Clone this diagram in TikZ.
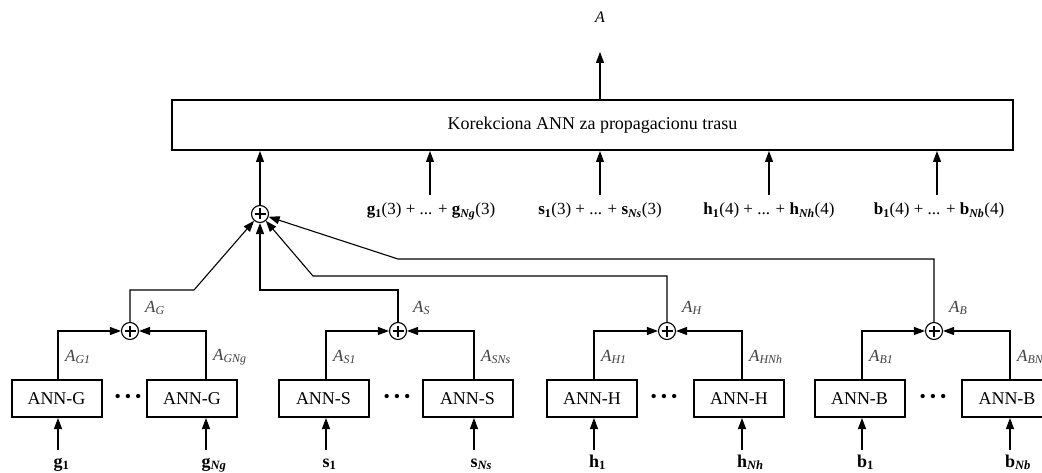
\documentclass[tikz,border=0pt]{standalone}
\usepackage{fontspec}
\setmainfont{Liberation Serif}
\usetikzlibrary{arrows.meta}

\newcommand{\asub}[1]{\textit{A}\textsubscript{\textit{#1}}}
\newcommand{\vin}[2]{\textbf{#1}\rlap{\textsubscript{\textbf{#2}}}}
\newcommand{\vsum}[4]{\textbf{#1}\textsubscript{\textbf{1}}(#3) + ... + \textbf{#1}\textsubscript{\textbf{\textit{#2}}}(#4)}

\tikzset{
  arr/.style={-{Triangle[length=11pt,width=8pt]}, line width=1.1pt},
  annbox/.style={draw, line width=2pt, minimum width=90pt, minimum height=37pt,
    inner sep=0pt, font=\fontsize{18}{20}\selectfont},
  corrbox/.style={draw, line width=2pt, minimum width=841pt, minimum height=50pt,
    inner sep=0pt, font=\fontsize{18}{20}\selectfont},
  sumnode/.style={draw, circle, line width=1.1pt, minimum size=17pt, inner sep=0pt,
    path picture={\draw[line width=1.1pt]
      ([xshift=-5.5pt]path picture bounding box.center) -- ([xshift=5.5pt]path picture bounding box.center)
      ([yshift=-5.5pt]path picture bounding box.center) -- ([yshift=5.5pt]path picture bounding box.center);}},
  alab/.style={anchor=west, inner sep=0pt, text=black!75, font=\fontsize{17}{19}\selectfont},
  vlab/.style={anchor=base, inner sep=0pt, text height=17pt, font=\fontsize{18}{20}\selectfont},
  toplab/.style={anchor=base, inner sep=0pt, text height=20pt, font=\fontsize{17}{19}\selectfont},
  dotsnode/.style={inner sep=0pt, font=\fontsize{18}{20}\selectfont}
}

\begin{document}
\begin{tikzpicture}[x=1pt,y=-1pt]
\useasboundingbox (0,0) rectangle (1042,473);

% correction network
\node[corrbox] (corr) at (592.5,125) {Korekciona ANN za propagacionu trasu};
\node[alab, anchor=center, text=black, font=\fontsize{16}{18}\selectfont] (A) at (600,17) {\textit{A}};
\coordinate (aout) at (600,52);
\draw[arr] (aout |- corr.north) -- (aout);

\node[sumnode] (sumA) at (260,214) {};
\draw[arr] (sumA) -- (sumA |- corr.south);

\node[toplab] (gtop) at (431,215) {\vsum{g}{Ng}{3}{3}};
\node[toplab] (stop) at (600,215) {\vsum{s}{Ns}{3}{3}};
\node[toplab] (htop) at (769,215) {\vsum{h}{Nh}{4}{4}};
\node[toplab] (btop) at (939,215) {\vsum{b}{Nb}{4}{4}};
\coordinate (ginx) at (430,195);
\coordinate (binx) at (937,195);
\draw[arr] (ginx) -- (ginx |- corr.south);
\draw[arr] (stop.north) -- (stop |- corr.south);
\draw[arr] (htop.north) -- (htop |- corr.south);
\draw[arr] (binx) -- (binx |- corr.south);

% group sums
\node[sumnode] (sumG) at (130,331) {};
\node[sumnode] (sumS) at (398,331) {};
\node[sumnode] (sumH) at (667,331) {};
\node[sumnode] (sumB) at (934,331) {};
\coordinate (kG) at (194,290);
\coordinate (kH) at (313,276);
\coordinate (kB) at (398,259);
\draw[arr] (sumG) |- (kG) -- (sumA);
\draw[arr] (sumS) |- (sumA |- kG) -- (sumA);
\draw[arr] (sumH) |- (kH) -- (sumA);
\draw[arr] (sumB) |- (kB) -- (sumA);
\node[alab] (lG) at (145,308) {\asub{G}};
\node[alab] (lS) at (413,308) {\asub{S}};
\node[alab] (lH) at (682,308) {\asub{H}};
\node[alab] (lB) at (949,308) {\asub{B}};

% ANN-G
\node[annbox] (gbox1) at (56.5,398.5) {ANN-G};
\node[annbox] (gbox2) at (192,398.5) {ANN-G};
\node[vlab] (g1) at (58,467) {\vin{g}{1}};
\node[vlab] (gN) at (206,467) {\vin{g}{\textit{Ng}}};
\draw[arr] (g1.north) -- (g1 |- gbox1.south);
\draw[arr] (gN.north) -- (gN |- gbox2.south);
\draw[arr] (g1 |- gbox1.north) |- (sumG);
\draw[arr] (gN |- gbox2.north) |- (sumG);
\node[alab] (lG1) at (65,357) {\asub{G1}};
\node[alab] (lGN) at (213,357) {\asub{GNg}};

% ANN-S
\node[annbox] (sbox1) at (323.5,398.5) {ANN-S};
\node[annbox] (sbox2) at (467.5,398.5) {ANN-S};
\node[vlab] (s1) at (326,467) {\vin{s}{1}};
\node[vlab] (sN) at (474,467) {\vin{s}{\textit{Ns}}};
\draw[arr] (s1.north) -- (s1 |- sbox1.south);
\draw[arr] (sN.north) -- (sN |- sbox2.south);
\draw[arr] (s1 |- sbox1.north) |- (sumS);
\draw[arr] (sN |- sbox2.north) |- (sumS);
\node[alab] (lS1) at (333,357) {\asub{S1}};
\node[alab] (lSN) at (481,357) {\asub{SNs}};

% ANN-H
\node[annbox] (hbox1) at (592,398.5) {ANN-H};
\node[annbox] (hbox2) at (739,398.5) {ANN-H};
\node[vlab] (h1) at (594,467) {\vin{h}{1}};
\node[vlab] (hN) at (742,467) {\vin{h}{\textit{Nh}}};
\draw[arr] (h1.north) -- (h1 |- hbox1.south);
\draw[arr] (hN.north) -- (hN |- hbox2.south);
\draw[arr] (h1 |- hbox1.north) |- (sumH);
\draw[arr] (hN |- hbox2.north) |- (sumH);
\node[alab] (lH1) at (601,357) {\asub{H1}};
\node[alab] (lHN) at (749,357) {\asub{HNh}};

% ANN-B
\node[annbox] (bbox1) at (859.5,398.5) {ANN-B};
\node[annbox] (bbox2) at (1007,398.5) {ANN-B};
\node[vlab] (b1) at (862,467) {\vin{b}{1}};
\node[vlab] (bN) at (1010,467) {\vin{b}{\textit{Nb}}};
\draw[arr] (b1.north) -- (b1 |- bbox1.south);
\draw[arr] (bN.north) -- (bN |- bbox2.south);
\draw[arr] (b1 |- bbox1.north) |- (sumB);
\draw[arr] (bN |- bbox2.north) |- (sumB);
\node[alab] (lB1) at (869,357) {\asub{B1}};
\node[alab] (lBN) at (1017,357) {\asub{BNb}};

\foreach \x in {128,397,664,933}
  \node[dotsnode] (dots\x) at (\x,398) {\textbullet\hspace{4pt}\textbullet\hspace{4pt}\textbullet};
\end{tikzpicture}
\end{document}
